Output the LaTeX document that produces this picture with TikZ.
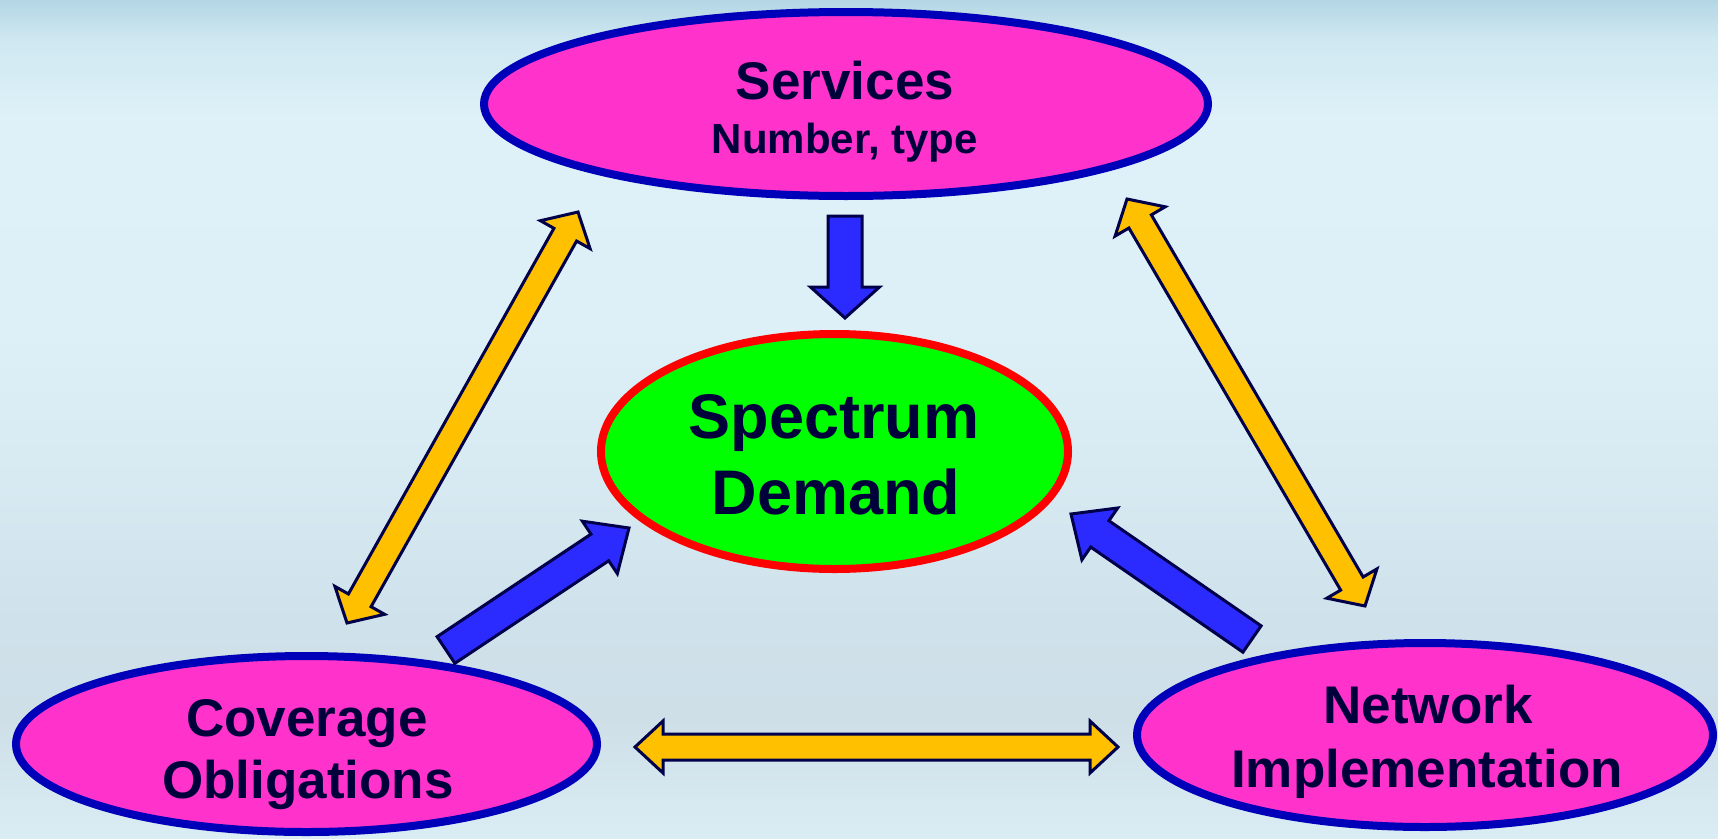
\documentclass[tikz,border=0pt]{standalone}
\usepackage{fontspec}
\setmainfont{Liberation Sans}
\usetikzlibrary{calc,shapes.geometric}

% palette
\definecolor{bgA}{HTML}{B4D6E4}
\definecolor{bgB}{HTML}{CFE8F1}
\definecolor{bgC}{HTML}{DFF1F8}
\definecolor{bgD}{HTML}{DEF0F7}
\definecolor{bgE}{HTML}{D7E9F1}
\definecolor{bgF}{HTML}{CFE1EA}
\definecolor{bgG}{HTML}{CEDFE8}
\definecolor{bgH}{HTML}{DAECF4}
\definecolor{pinkfill}{HTML}{FF33CC}
\definecolor{ringblue}{HTML}{0000B8}
\definecolor{limefill}{HTML}{00FF00}
\definecolor{ringred}{HTML}{FF0000}
\definecolor{inktext}{HTML}{00003A}
\definecolor{amber}{HTML}{FFC000}
\definecolor{royal}{HTML}{2B2BFF}
\definecolor{outline}{HTML}{00004A}

% sky background, bottom (0) to top
\pgfdeclareverticalshading{skyshade}{100bp}{%
  color(0bp)=(bgH); color(25bp)=(bgH); color(32bp)=(bgG); color(38bp)=(bgF);
  color(46.4bp)=(bgE); color(55.3bp)=(bgD); color(67.8bp)=(bgC);
  color(72.6bp)=(bgB); color(75bp)=(bgA); color(100bp)=(bgA)}

% block arrow: style, from, to, half shaft, half head, head length
\newcommand{\blockarrow}[6]{%
  \coordinate (ba-h) at ($(#3)!#6!(#2)$);
  \filldraw[#1] ($(#2)!#4!90:(#3)$) -- ($(ba-h)!#4!90:(#3)$) -- ($(ba-h)!#5!90:(#3)$)
    -- (#3) -- ($(ba-h)!#5!-90:(#3)$) -- ($(ba-h)!#4!-90:(#3)$) -- ($(#2)!#4!-90:(#3)$) -- cycle;
}
% double block arrow: style, end A, end B, half shaft, half head, head length
\newcommand{\twinarrow}[6]{%
  \coordinate (ta-a) at ($(#2)!#6!(#3)$);
  \coordinate (ta-b) at ($(#3)!#6!(#2)$);
  \filldraw[#1] (#2) -- ($(ta-a)!#5!90:(#3)$) -- ($(ta-a)!#4!90:(#3)$)
    -- ($(ta-b)!#4!90:(#3)$) -- ($(ta-b)!#5!90:(#3)$) -- (#3)
    -- ($(ta-b)!#5!-90:(#3)$) -- ($(ta-b)!#4!-90:(#3)$)
    -- ($(ta-a)!#4!-90:(#3)$) -- ($(ta-a)!#5!-90:(#3)$) -- cycle;
}

\tikzset{
  topic/.style={ellipse, draw=ringblue, fill=pinkfill, line width=8pt, inner sep=0pt},
  core/.style={ellipse, draw=ringred, fill=limefill, line width=8pt, inner sep=0pt},
  lbl/.style={anchor=base, inner sep=0pt, text=inktext, font=\bfseries\fontsize{53}{60}\selectfont},
  sublbl/.style={lbl, font=\bfseries\fontsize{42}{48}\selectfont},
  bigl/.style={lbl, font=\bfseries\fontsize{63}{72}\selectfont},
  bluearrow/.style={fill=royal, draw=outline, line width=3pt, line join=miter},
  goldarrow/.style={fill=amber, draw=outline, line width=3pt, line join=miter},
}

\begin{document}
\begin{tikzpicture}[x=1pt, y=-1pt]
  \useasboundingbox (0,0) rectangle (1718,838);
  \shade[shading=skyshade] (0,0) rectangle (1718,838);

  % ellipses
  \node[topic, minimum width=724pt, minimum height=184pt] (svc) at (846,104) {};
  \node[core, minimum width=467pt, minimum height=235pt] (dem) at (834.5,451.5) {};
  \node[topic, minimum width=581pt, minimum height=176pt] (cov) at (306.5,744) {};
  \node[topic, minimum width=576pt, minimum height=184pt] (net) at (1425,735) {};

  % labels
  \node[lbl] (svc-t) at (845,99) {Services};
  \node[sublbl] (svc-s) at (845,153) {Number, type};
  \node[bigl] (dem-t1) at (834,438) {Spectrum};
  \node[bigl] (dem-t2) at (836,514) {Demand};
  \node[lbl] (cov-t1) at (307,736) {Coverage};
  \node[lbl] (cov-t2) at (308,798) {Obligations};
  \node[lbl] (net-t1) at (1428,723) {Network};
  \node[lbl] (net-t2) at (1427,787) {Implementation};

  % arrow end points
  \coordinate (svc-out) at (845,216);
  \coordinate (dem-top) at (845,318);
  \coordinate (cov-out) at (446,650);
  \coordinate (dem-left) at (629,528);
  \coordinate (net-out) at (1252,639);
  \coordinate (dem-right) at (1071,514);
  \coordinate (svc-l) at (578,212);
  \coordinate (cov-u) at (347,623);
  \coordinate (svc-r) at (1127,199);
  \coordinate (net-u) at (1365,606);
  \coordinate (cov-r) at (635,747);
  \coordinate (net-l) at (1118,747);

  % drivers of the demand
  \blockarrow{bluearrow}{svc-out}{dem-top}{17pt}{34.5pt}{31pt}
  \blockarrow{bluearrow}{cov-out}{dem-left}{16pt}{31.5pt}{35pt}
  \blockarrow{bluearrow}{net-out}{dem-right}{16pt}{31.5pt}{35pt}

  % mutual links
  \twinarrow{goldarrow}{svc-l}{cov-u}{13pt}{28.5pt}{26pt}
  \twinarrow{goldarrow}{svc-r}{net-u}{13pt}{29pt}{26pt}
  \twinarrow{goldarrow}{cov-r}{net-l}{13pt}{26pt}{28pt}
\end{tikzpicture}
\end{document}
